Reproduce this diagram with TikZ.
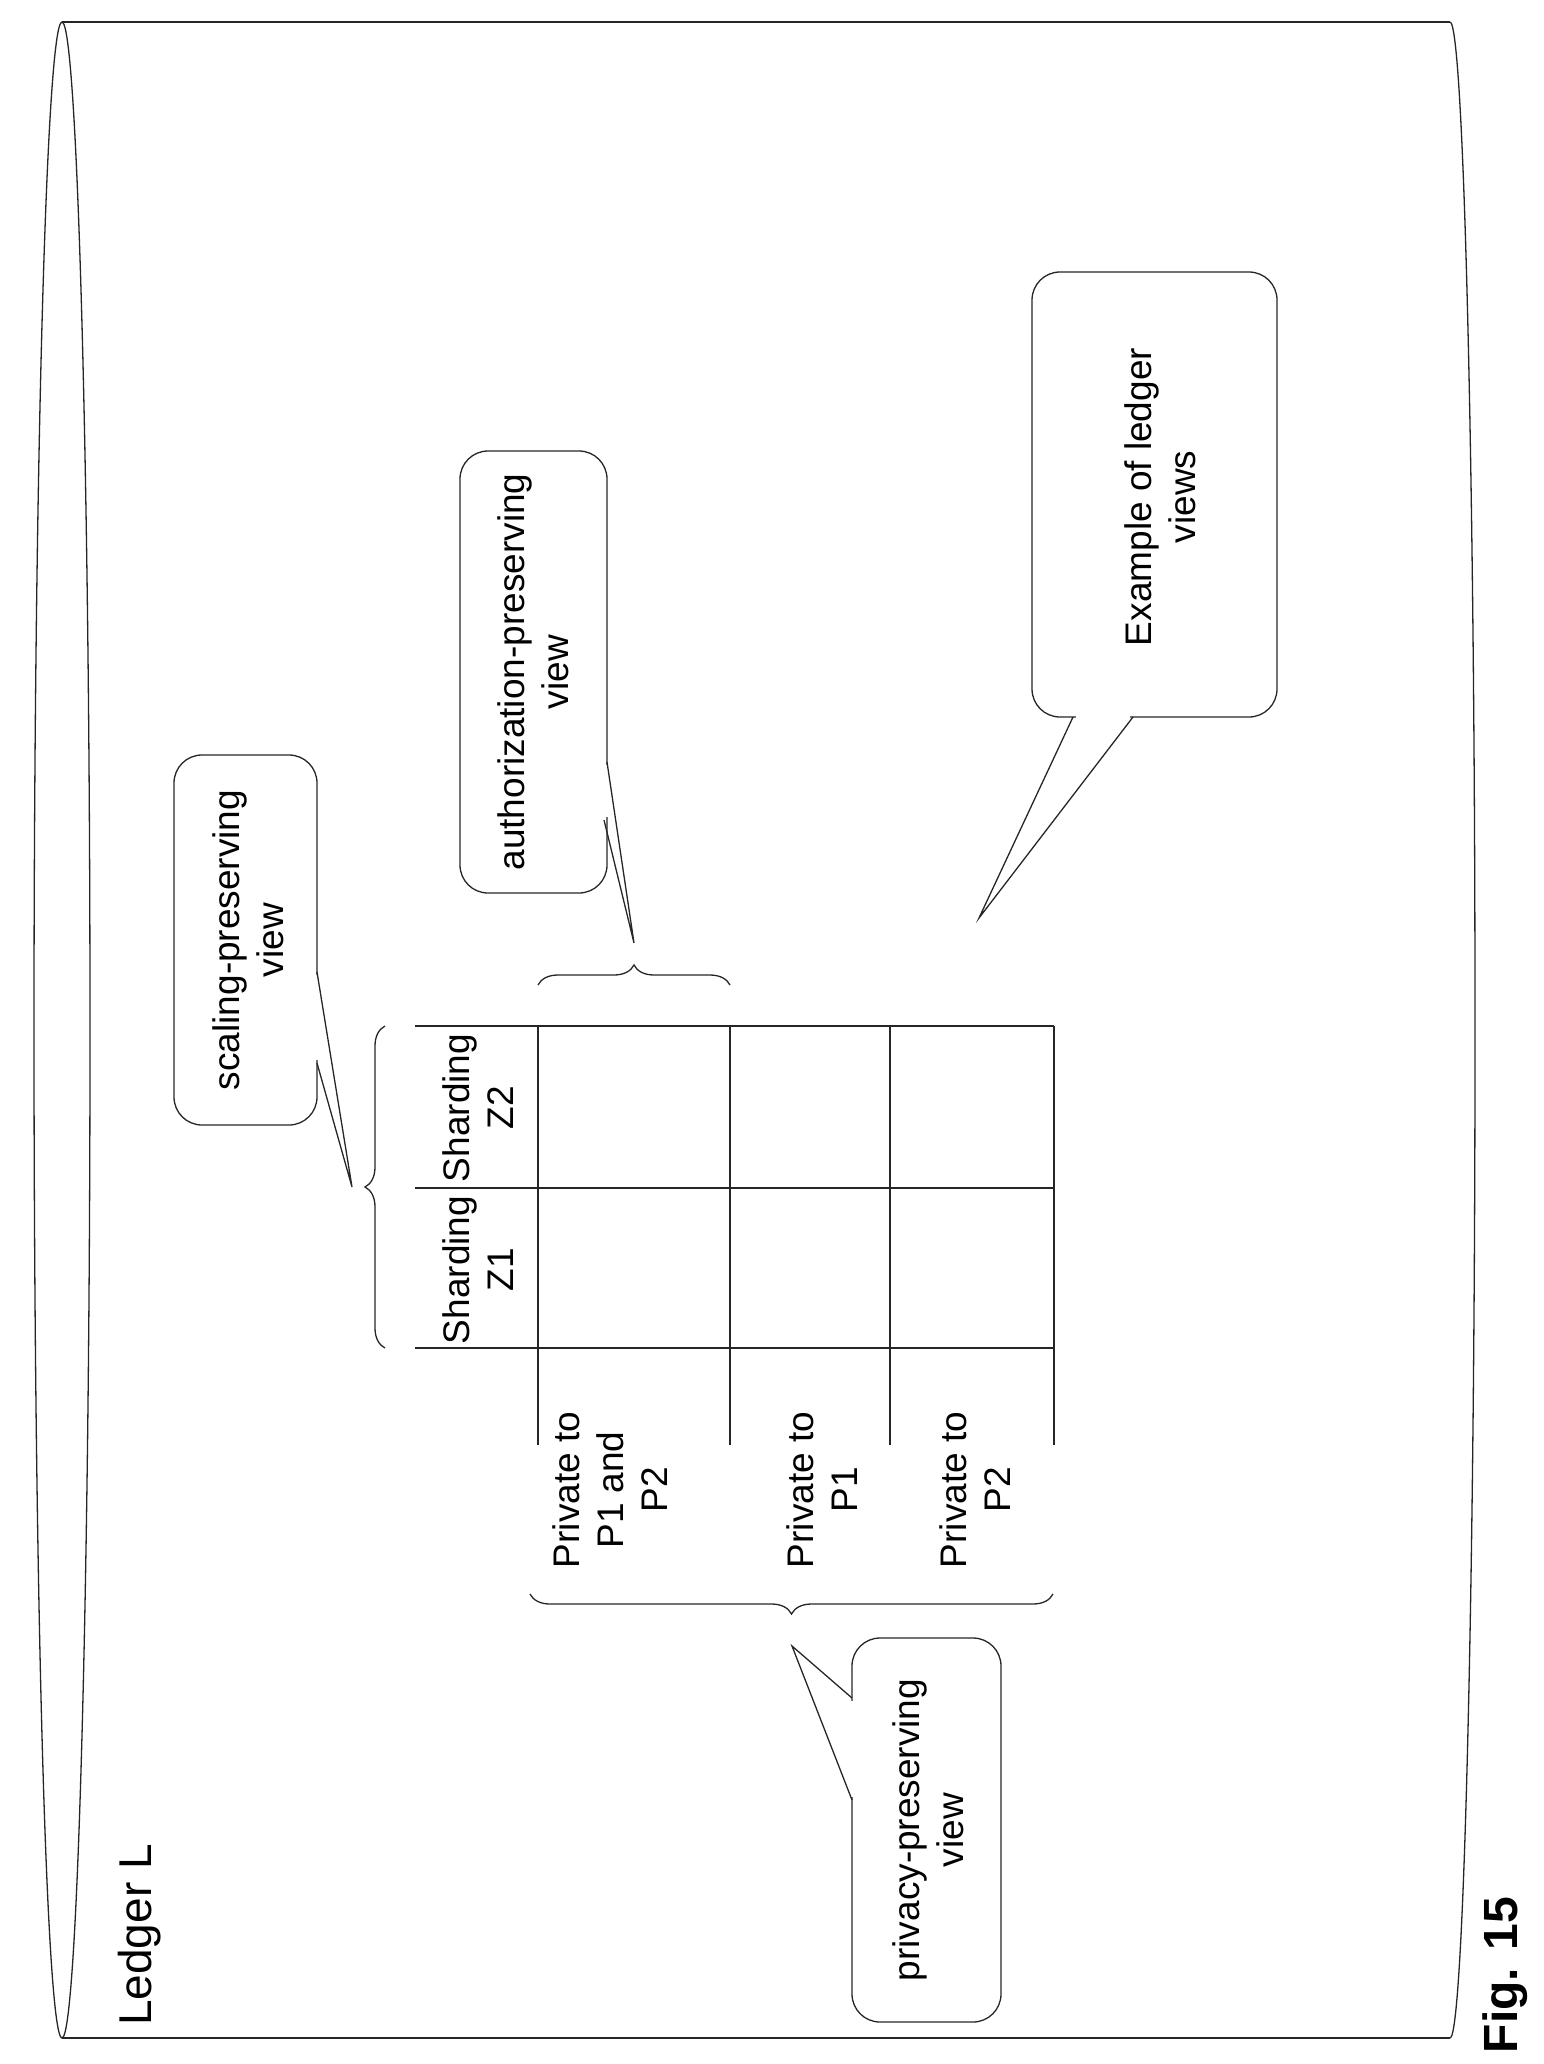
\documentclass[tikz,border=0pt]{standalone}
\usepackage{fontspec}
\setmainfont{Liberation Sans}
\usetikzlibrary{decorations.pathreplacing}
\begin{document}
\begin{tikzpicture}[x=1pt,y=-1pt,
  ln/.style={line width=1.3pt,draw=black!85},
  callout/.style={ln,rounded corners=28pt},
  lbl/.style={rotate=90,align=center,font=\fontsize{37}{44}\selectfont,inner sep=0pt},
  brc/.style={ln,decorate,decoration={brace,amplitude=20pt}}]
\useasboundingbox (0,0) rectangle (1544,2064);
% cylinder
\draw[ln] (62,1030) ellipse[x radius=28,y radius=1008];
\draw[ln] (62,22) -- (1450,22);
\draw[ln] (62,2038) -- (1450,2038);
\draw[ln] (1450,22) arc[start angle=-90,end angle=90,x radius=25,y radius=1008];
\node[rotate=90,font=\fontsize{46}{54}\selectfont] (ledger) at (140,1935) {Ledger L};
\node[rotate=90,font=\fontsize{48}{54}\selectfont\bfseries] (fig) at (1505,1975) {Fig. 15};
% grid
\draw[ln] (415,1026) -- (1054,1026);
\draw[ln] (415,1188) -- (1054,1188);
\draw[ln] (415,1348) -- (1054,1348);
\foreach \x in {538,730,890,1054} \draw[ln] (\x,1026) -- (\x,1445);
\node[lbl] (z1) at (478,1270) {Sharding\\Z1};
\node[lbl] (z2) at (478,1108) {Sharding\\Z2};
\node[lbl] (r1) at (610,1490) {Private to\\P1 and\\P2};
\node[lbl] (r2) at (822,1490) {Private to\\P1};
\node[lbl] (r3) at (975,1490) {Private to\\P2};
% braces
\draw[brc] (385,1348) -- (385,1026);
\coordinate (stip) at (352,1187);
\draw[brc] (538,985) -- (730,985);
\coordinate (atip) at (634,943);
\draw[brc] (1053,1594) -- (530,1594);
\coordinate (ptip) at (792,1646);
% callouts
\draw[callout] (174,755) rectangle (317,1125);
\node[lbl] (scal) at (248,940) {scaling-preserving\\view};
\draw[white,line width=3pt] (317,975) -- (317,1060);
\draw[ln] (317,972) -- (stip) -- (317,1063);

\draw[callout] (460,451) rectangle (607,893);
\node[lbl] (auth) at (533,672) {authorization-preserving\\view};
\draw[white,line width=3pt] (607,765) -- (607,817);
\draw[ln] (607,762) -- (atip) -- (604,820);

\draw[callout] (1032,272) rectangle (1277,717);
\node[lbl] (ex) at (1160,497) {Example of ledger\\views};
\draw[white,line width=3pt] (1076,717) -- (1130,717);
\draw[ln] (1073,717) -- (979,918) -- (1133,717);

\draw[callout] (852,1638) rectangle (1001,2022);
\node[lbl] (priv) at (928,1830) {privacy-preserving\\view};
\draw[white,line width=3pt] (852,1701) -- (852,1797);
\draw[ln] (852,1698) -- (ptip) -- (852,1800);
\end{tikzpicture}
\end{document}
